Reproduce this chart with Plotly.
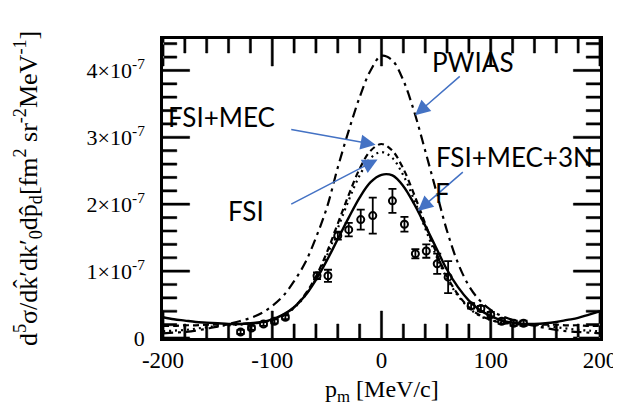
import plotly.graph_objects as go

# ---- data (cross-section in units of 1e-7 fm^2 sr^-2 MeV^-1) ----
pm_grid = [-200, -190, -180, -170, -160, -150, -140, -130, -120, -110, -100,
           -90, -80, -70, -60, -50, -40, -30, -20, -10, 0,
           10, 20, 30, 40, 50, 60, 70, 80, 90, 100,
           110, 120, 130, 140, 150, 160, 170, 180, 190, 200]

pwias = [0.07, 0.08, 0.09, 0.11, 0.14, 0.17, 0.21, 0.25, 0.30, 0.37, 0.48,
         0.63, 0.85, 1.12, 1.50, 1.95, 2.55, 3.10, 3.60, 4.00, 4.22,
         4.15, 3.85, 3.38, 2.80, 2.20, 1.60, 1.12, 0.78, 0.56, 0.42,
         0.33, 0.27, 0.22, 0.18, 0.15, 0.12, 0.10, 0.09, 0.08, 0.07]

fsi_mec = [0.18, 0.18, 0.19, 0.19, 0.20, 0.20, 0.20, 0.21, 0.22, 0.23, 0.27,
           0.34, 0.46, 0.65, 0.92, 1.28, 1.71, 2.14, 2.53, 2.80, 2.90,
           2.80, 2.53, 2.14, 1.71, 1.28, 0.92, 0.65, 0.46, 0.34, 0.27,
           0.23, 0.22, 0.21, 0.20, 0.20, 0.20, 0.19, 0.19, 0.18, 0.18]

fsi = [0.10, 0.11, 0.12, 0.14, 0.16, 0.18, 0.19, 0.20, 0.21, 0.23, 0.27,
       0.33, 0.45, 0.63, 0.89, 1.23, 1.64, 2.06, 2.43, 2.69, 2.78,
       2.69, 2.43, 2.06, 1.64, 1.23, 0.89, 0.63, 0.45, 0.33, 0.27,
       0.23, 0.21, 0.20, 0.19, 0.18, 0.16, 0.14, 0.12, 0.11, 0.10]

fsi_mec_3nf = [0.31, 0.28, 0.26, 0.24, 0.23, 0.22, 0.21, 0.21, 0.22, 0.24, 0.28,
               0.35, 0.46, 0.63, 0.87, 1.16, 1.48, 1.80, 2.10, 2.33, 2.44,
               2.43, 2.27, 2.00, 1.68, 1.35, 1.02, 0.76, 0.56, 0.42, 0.33,
               0.26, 0.23, 0.21, 0.21, 0.22, 0.24, 0.27, 0.30, 0.35, 0.40]

data_pm = [-129, -119, -108, -98, -88, -59, -49, -40, -30, -19, -8,
           10, 21, 31, 41, 51, 61, 82, 91, 100, 110, 121, 130]
data_val = [0.09, 0.15, 0.21, 0.25, 0.31, 0.93, 0.93, 1.53, 1.62, 1.77, 1.83,
            2.05, 1.70, 1.26, 1.30, 1.11, 0.91, 0.48, 0.44, 0.35, 0.25, 0.22, 0.22]
data_err = [0.03, 0.03, 0.03, 0.03, 0.03, 0.05, 0.09, 0.06, 0.10, 0.15, 0.27,
            0.18, 0.11, 0.07, 0.10, 0.15, 0.24, 0.04, 0.04, 0.04, 0.04, 0.04, 0.04]

y_tickvals = [0, 1, 2, 3, 4]
y_ticktext = ["0\u00a0\u00a0", "1×10<sup>-7</sup>\u00a0\u00a0", "2×10<sup>-7</sup>\u00a0\u00a0",
              "3×10<sup>-7</sup>\u00a0\u00a0", "4×10<sup>-7</sup>\u00a0\u00a0"]
y_minor_vals = [0.2, 0.4, 0.6, 0.8, 1.2, 1.4, 1.6, 1.8, 2.2, 2.4, 2.6, 2.8,
                3.2, 3.4, 3.6, 3.8, 4.2, 4.4]
x_tickvals = [-200, -100, 0, 100, 200]
x_ticktext = ["-200", "-100", "0", "100", "200"]
x_minor_vals = [-180, -160, -140, -120, -80, -60, -40, -20,
                20, 40, 60, 80, 120, 140, 160, 180]

X_RANGE = [-200, 200]
Y_RANGE = [0, 4.47]

SERIF = "Liberation Serif, Times New Roman, serif"
SANS = "Lato, Open Sans, sans-serif"
BLUE = "#4472C4"

W, H = 621, 410
M_L, M_R, M_T, M_B = 155, 23, 31, 80
PLOT_W = W - M_L - M_R
PLOT_H = H - M_T - M_B
MAJOR_LEN, MINOR_LEN = 27, 14   # tick lengths, px
TICK_W = 2.2                    # tick thickness, px

fig = go.Figure()
fig.add_trace(go.Scatter(x=pm_grid, y=pwias, mode="lines", line_shape="spline",
                         line=dict(color="black", width=2.2, dash="10px,5px,3px,5px"),
                         name="PWIAS"))
fig.add_trace(go.Scatter(x=pm_grid, y=fsi_mec, mode="lines", line_shape="spline",
                         line=dict(color="black", width=2.2, dash="6px,4px"),
                         name="FSI+MEC"))
fig.add_trace(go.Scatter(x=pm_grid, y=fsi, mode="lines", line_shape="spline",
                         line=dict(color="black", width=2.2, dash="2px,4px"),
                         name="FSI"))
fig.add_trace(go.Scatter(x=pm_grid, y=fsi_mec_3nf, mode="lines", line_shape="spline",
                         line=dict(color="black", width=2.4),
                         name="FSI+MEC+3NF"))
fig.add_trace(go.Scatter(x=data_pm, y=data_val, mode="markers",
                         marker=dict(symbol="circle-open", size=7, color="black",
                                     line=dict(width=2, color="black")),
                         error_y=dict(type="data", array=data_err, color="black",
                                      thickness=1.8, width=4),
                         name="data"))

# inside tick marks on all four sides as thin filled rectangles,
# placed from the tick value arrays through the axis scales
x_per_px = (X_RANGE[1] - X_RANGE[0]) / PLOT_W
y_per_px = (Y_RANGE[1] - Y_RANGE[0]) / PLOT_H
hx = TICK_W / 2 * x_per_px
hy = TICK_W / 2 * y_per_px
rx, ry = [], []
for vals, length in ((x_tickvals, MAJOR_LEN), (x_minor_vals, MINOR_LEN)):
    d = length * y_per_px
    for v in vals:
        for y0, y1 in ((Y_RANGE[0], Y_RANGE[0] + d), (Y_RANGE[1], Y_RANGE[1] - d)):
            rx += [v - hx, v + hx, v + hx, v - hx, v - hx, None]
            ry += [y0, y0, y1, y1, y0, None]
for vals, length in ((y_tickvals, MAJOR_LEN), (y_minor_vals, MINOR_LEN)):
    d = length * x_per_px
    for v in vals:
        for x0, x1 in ((X_RANGE[0], X_RANGE[0] + d), (X_RANGE[1], X_RANGE[1] - d)):
            rx += [x0, x1, x1, x0, x0, None]
            ry += [v - hy, v - hy, v + hy, v + hy, v - hy, None]
fig.add_trace(go.Scatter(x=rx, y=ry, mode="lines", fill="toself", fillcolor="black",
                         line=dict(color="black", width=0.5),
                         hoverinfo="skip", showlegend=False, name="ticks"))

fig.update_xaxes(range=X_RANGE, tickmode="array", tickvals=x_tickvals, ticktext=x_ticktext,
                 ticks="", showline=True, linecolor="black", linewidth=2.5, mirror=True,
                 showgrid=False, zeroline=False,
                 tickfont=dict(family=SERIF, size=23, color="black"))
fig.update_yaxes(range=Y_RANGE, tickmode="array", tickvals=y_tickvals, ticktext=y_ticktext,
                 ticks="", showline=True, linecolor="black", linewidth=2.5, mirror=True,
                 showgrid=False, zeroline=False,
                 tickfont=dict(family=SERIF, size=22, color="black"))

annotations = []
annotations.append(dict(text="p<sub>m</sub> [MeV/c]", xref="paper", yref="paper",
                        x=0.5, y=-0.177, xanchor="center", yanchor="middle",
                        showarrow=False, font=dict(family=SERIF, size=24, color="black")))
annotations.append(dict(text="d<sup>5</sup>σ/dk̂′dk′<sub>0</sub>dp̂<sub>d</sub>[fm<sup>2</sup> sr<sup>-2</sup>MeV<sup>-1</sup>]",
                        xref="paper", yref="paper", x=-0.31, y=0.5,
                        xanchor="center", yanchor="middle", textangle=-90,
                        showarrow=False, font=dict(family=SERIF, size=26, color="black")))
arrows = [
    (30.7, 3.33, 73.0, 3.93),
    (-5.4, 2.89, -84.0, 3.12),
    (-3.6, 2.67, -84.0, 1.99),
    (33.4, 1.90, 75.8, 2.50),
]
for (ax_tip, ay_tip, ax_tail, ay_tail) in arrows:
    annotations.append(dict(x=ax_tip, y=ay_tip, ax=ax_tail, ay=ay_tail, xref="x", yref="y",
                            axref="x", ayref="y", text="", showarrow=True,
                            arrowhead=2, arrowsize=2, arrowwidth=1.5,
                            arrowcolor=BLUE))
lab_font = dict(family=SANS, size=26, color="black")
annotations.append(dict(text="PWIAS", x=84.0, y=4.12, xref="x", yref="y",
                        showarrow=False, font=lab_font, xanchor="center", yanchor="middle"))
annotations.append(dict(text="FSI+MEC", x=-197.0, y=3.30, xref="x", yref="y",
                        showarrow=False, font=lab_font, xanchor="left", yanchor="middle"))
annotations.append(dict(text="FSI+MEC+3N", x=48.0, y=2.70, xref="x", yref="y",
                        showarrow=False, font=lab_font, xanchor="left", yanchor="middle"))
annotations.append(dict(text="F", x=47.5, y=2.17, xref="x", yref="y",
                        showarrow=False, font=lab_font, xanchor="left", yanchor="middle"))
annotations.append(dict(text="FSI", x=-124.0, y=1.90, xref="x", yref="y",
                        showarrow=False, font=lab_font, xanchor="center", yanchor="middle"))

fig.update_layout(width=W, height=H,
                  margin=dict(l=M_L, r=M_R, t=M_T, b=M_B),
                  paper_bgcolor="white", plot_bgcolor="white",
                  showlegend=False, annotations=annotations)

fig.write_html("out.html")
